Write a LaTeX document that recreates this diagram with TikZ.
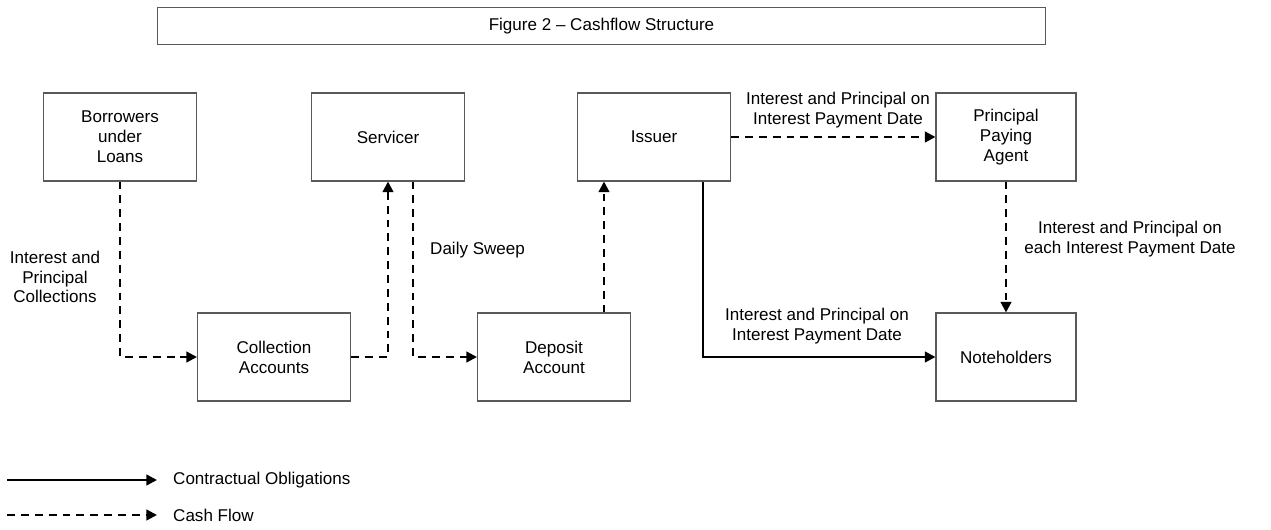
\documentclass[tikz,border=0pt]{standalone}
\usepackage{fontspec}
\setmainfont{Liberation Sans}
\usetikzlibrary{positioning, arrows.meta}

\begin{document}
\begin{tikzpicture}[x=0.02cm, y=-0.02cm, font=\fontsize{9.7}{11.3}\selectfont,
    box/.style={draw=black!65, line width=0.6pt, minimum width=3.06cm, minimum height=1.76cm, align=center, inner sep=2pt},
    agentbox/.style={box, minimum width=2.8cm},
    flow/.style={dash pattern=on 4.5pt off 3.4pt, line width=1.3pt, -{Triangle[length=6pt,width=6pt]}},
    duty/.style={line width=1.3pt, -{Triangle[length=6pt,width=6pt]}},
    lbl/.style={align=center}]
    \useasboundingbox (0,0) rectangle (1271,530);

    \node[draw=black!65, line width=0.6pt, minimum width=17.78cm, minimum height=0.74cm] (title) at (601.5,26) {Figure 2 \textendash{} Cashflow Structure};

    \node[box] (borrow) at (120,137) {Borrowers\\under\\Loans};
    \node[box] (serv) at (388,137) {Servicer};
    \node[box] (iss) at (654,137) {Issuer};
    \node[agentbox] (ppa) at (1006,137) {Principal\\Paying\\Agent};
    \node[box] (coll) at (274,357) {Collection\\Accounts};
    \node[box] (dep) at (554,357) {Deposit\\Account};
    \node[agentbox] (note) at (1006,357) {Noteholders};

    \draw[flow] (borrow.south) |- (coll.west);
    \draw[flow] (coll.east) -| (serv.south);
    \draw[flow] ([xshift=0.5cm]serv.south) |- (dep.west);
    \draw[flow] ([xshift=1cm]dep.north) -- ([xshift=1cm]dep.north |- iss.south);
    \draw[flow] (iss.east) -- (ppa.west);
    \draw[duty] ([xshift=0.98cm]iss.south) |- (note.west);
    \draw[flow] (ppa.south) -- (note.north);

    \node[lbl] (collLbl) at (55,277) {Interest and\\Principal\\Collections};
    \node[lbl, anchor=west] (sweepLbl) at (424,250) {Daily Sweep};
    \node[lbl] (ppaLbl) at (838,110) {Interest and Principal on\\Interest Payment Date};
    \node[lbl] (noteLbl) at (817,326) {Interest and Principal on\\Interest Payment Date};
    \node[lbl] (eachLbl) at (1130,239) {Interest and Principal on\\each Interest Payment Date};

    % legend
    \coordinate (dutyA) at (7,480);
    \coordinate (dutyB) at (157,480);
    \coordinate (flowA) at (7,515);
    \coordinate (flowB) at (157,515);
    \draw[duty] (dutyA) -- (dutyB);
    \draw[flow] (flowA) -- (flowB);
    \node[anchor=west] (dutyTxt) at (167,480) {Contractual Obligations};
    \node[anchor=west] (flowTxt) at (167,515) {Cash Flow};
\end{tikzpicture}
\end{document}
